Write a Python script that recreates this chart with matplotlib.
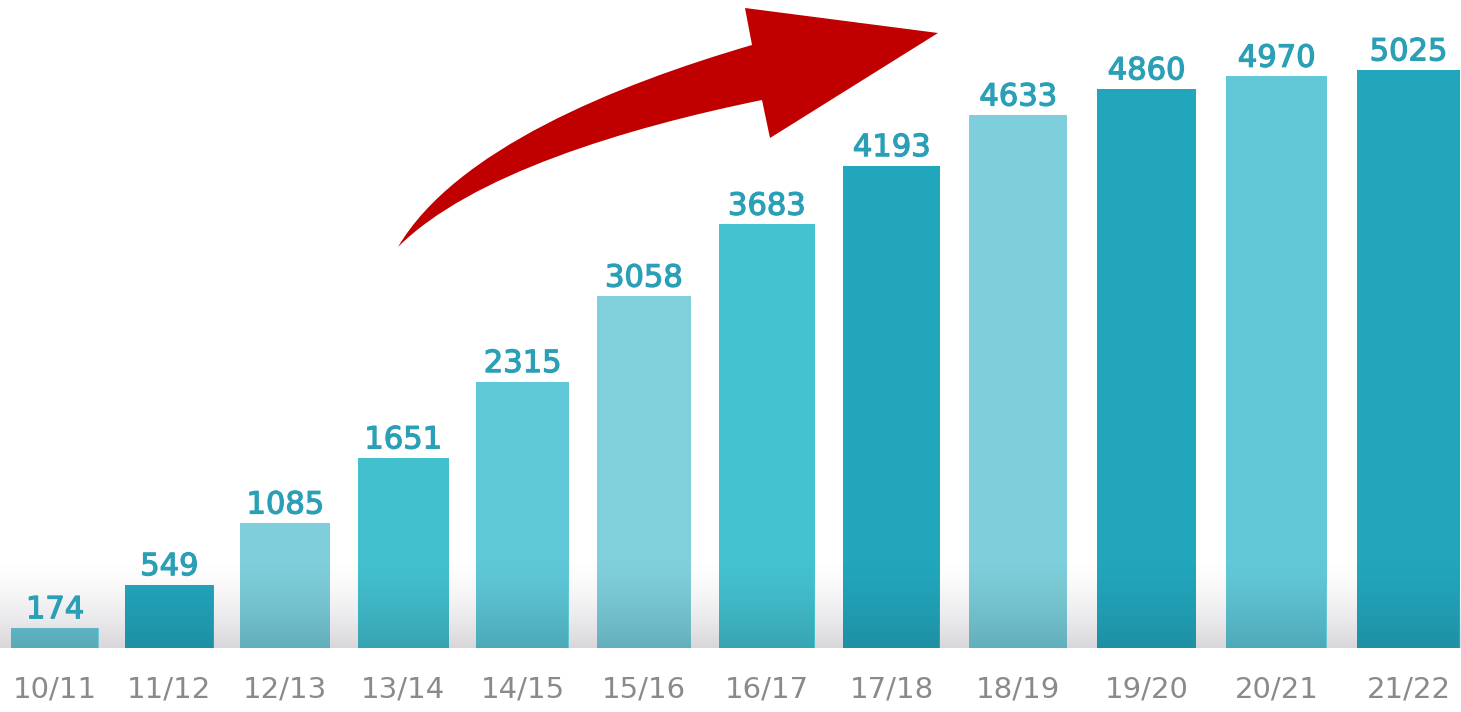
import matplotlib
matplotlib.use('Agg')
import matplotlib.pyplot as plt
import matplotlib.patheffects as pe
import numpy as np
from matplotlib.path import Path
from matplotlib.patches import PathPatch

# data
seasons = ['10/11', '11/12', '12/13', '13/14', '14/15', '15/16',
           '16/17', '17/18', '18/19', '19/20', '20/21', '21/22']
values = [174, 549, 1085, 1651, 2315, 3058, 3683, 4193, 4633, 4860, 4970, 5025]
bar_colors = ['#6FC9D7', '#22A6BC', '#7ECFDB', '#43C0CE', '#5FC8D7', '#80D0DC',
              '#44C2CF', '#22A6BC', '#7ECFDB', '#22A6BC', '#62C8D7', '#22A6BC']

W, H = 1461, 712
fig = plt.figure(figsize=(W / 100, H / 100), dpi=100)
ax = fig.add_axes([0, 64 / H, 1, 648 / H])

# the original graphic widens a little to the right -> mild quadratic x scale
B, C = 113.4, 0.876


def fwd(i):
    i = np.asarray(i, dtype=float)
    return B * i + C * i ** 2


def inv(p):
    p = np.asarray(p, dtype=float)
    return (-B + np.sqrt(np.maximum(B ** 2 + 4 * C * p, 0))) / (2 * C)


ax.set_xscale('function', functions=(fwd, inv))
xmin, xmax = float(inv(-55)), float(inv(1406))
ymax = 5635
ax.set_xlim(xmin, xmax)
ax.set_ylim(0, ymax)

# grey shadow along the floor, visible in the gaps
shade_top = 780
grad = np.linspace(0, 1, 100)[:, None]  # top -> bottom
rgba = np.zeros((100, 2, 4))
rgba[..., :3] = (0.80, 0.79, 0.81)
rgba[..., 3] = (grad ** 1.6) * 0.75
ax.imshow(rgba, extent=(xmin, xmax, 0, shade_top), aspect='auto', zorder=0,
          interpolation='bilinear')

bars = ax.bar(range(len(values)), values, width=0.77, color=bar_colors, zorder=2)

# darker base on each bar
dark = np.zeros((100, 2, 4))
dark[..., :3] = (0.08, 0.30, 0.36)
dark[..., 3] = (grad ** 1.4) * 0.25
for b, v in zip(bars, values):
    x0 = b.get_x()
    im = ax.imshow(dark, extent=(x0, x0 + b.get_width(), 0, shade_top), aspect='auto',
                   zorder=3, interpolation='bilinear')
    im.set_clip_path(b)

for i, v in enumerate(values):
    ax.annotate(f'{v}', xy=(i, v), xytext=(0, 7), textcoords='offset points',
                ha='center', va='baseline', fontsize=22, color='#2A9FB5',
                path_effects=[pe.withStroke(linewidth=0.9, foreground='#2A9FB5')])

ax.set_xticks(range(len(seasons)))
ax.set_xticklabels(seasons, fontsize=21, color='#8A8A8A')
ax.tick_params(axis='x', length=0, pad=20)
ax.set_yticks([])
ax.minorticks_off()
for s in ax.spines.values():
    s.set_visible(False)
ax.set_xlim(xmin, xmax)
ax.set_ylim(0, ymax)

# curved red arrow (pixel coords, y from top)
pts = [(398, 247), (455, 150), (615, 85), (752, 45),
       (745, 8), (938, 33), (770, 138), (762, 100),
       (625, 128), (470, 175), (398, 247)]
codes = [Path.MOVETO, Path.CURVE4, Path.CURVE4, Path.CURVE4,
         Path.LINETO, Path.LINETO, Path.LINETO, Path.LINETO,
         Path.CURVE4, Path.CURVE4, Path.CURVE4]
verts = [(x / W, 1 - y / H) for x, y in pts]
arrow = PathPatch(Path(verts, codes), facecolor='#C00000', edgecolor='none',
                  transform=fig.transFigure, zorder=10)
fig.patches.append(arrow)

plt.savefig('out.png', dpi=100)
plt.close()
